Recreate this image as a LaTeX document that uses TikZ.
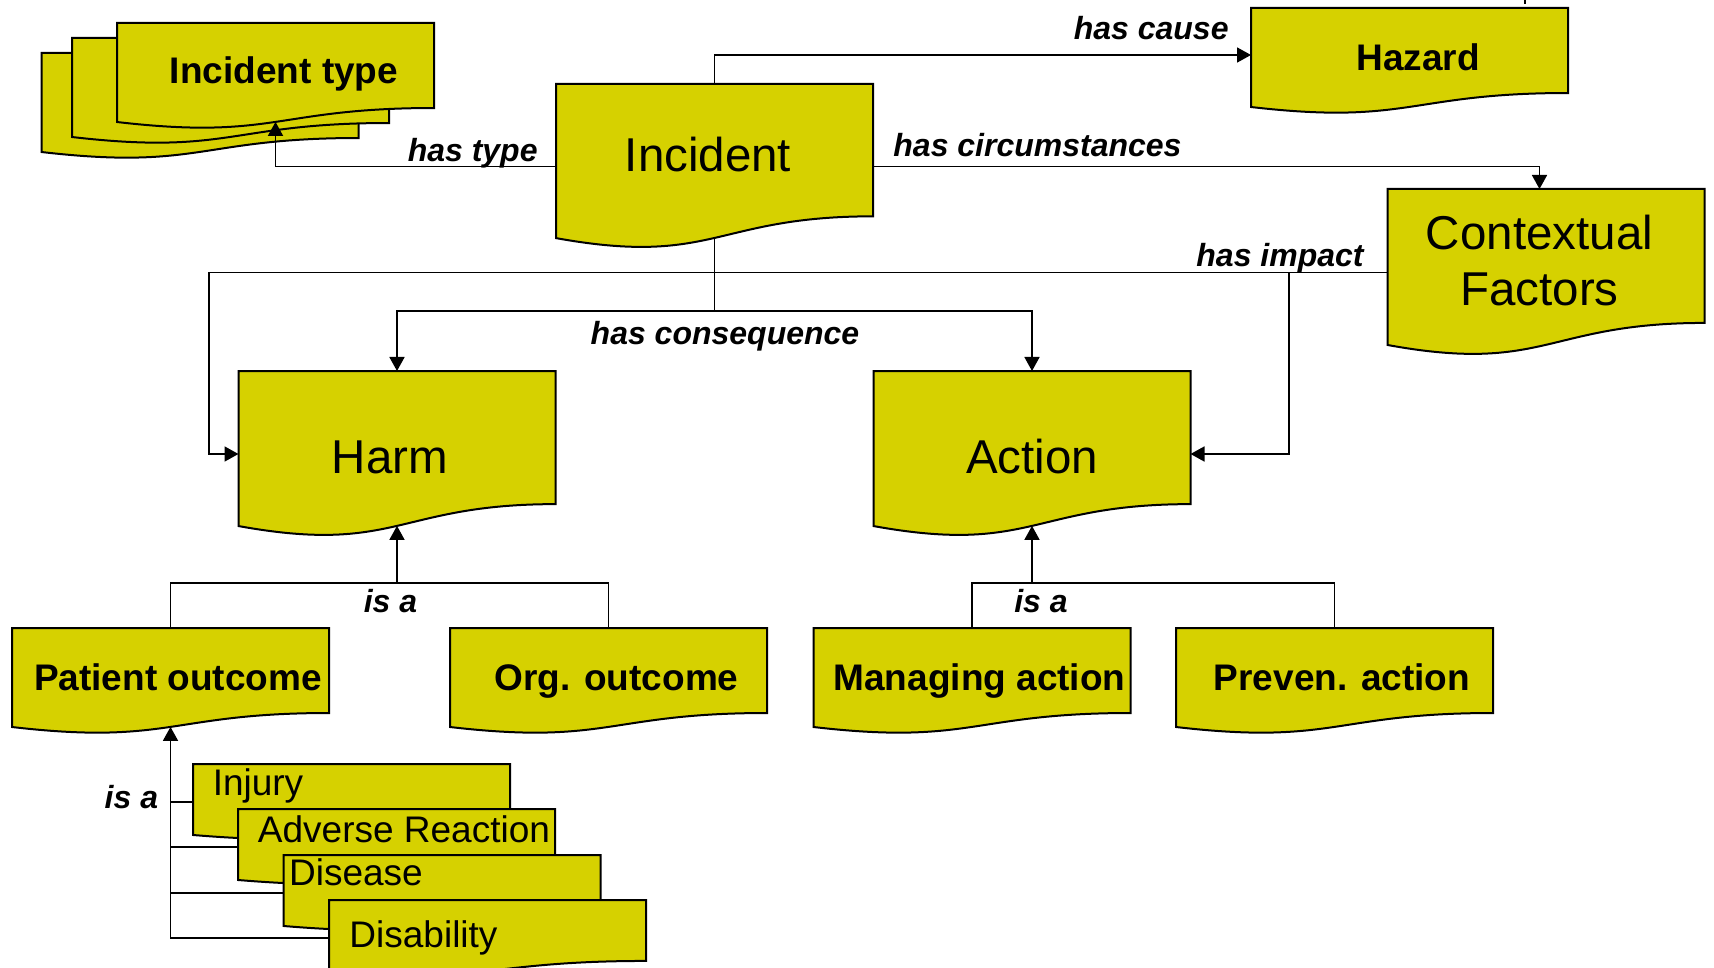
\documentclass[tikz,border=0pt]{standalone}
\usepackage{fontspec}
\setmainfont{Liberation Sans}
\usetikzlibrary{arrows.meta,calc}

\makeatletter
% Flow-chart "document" shape: a rectangle whose lower edge is a wave.
% Its size is fixed by minimum width/height; the text can be moved
% off the centre with the keys doc text dx / doc text dy.
\pgfkeys{/pgf/doc text dx/.initial=0pt,/pgf/doc text dy/.initial=0pt}
\pgfdeclareshape{document}{%
  \savedanchor\centerpoint{%
    \pgf@x=.5\wd\pgfnodeparttextbox
    \pgf@y=.5\ht\pgfnodeparttextbox
    \advance\pgf@y by -.5\dp\pgfnodeparttextbox
    \pgfmathsetlength\pgf@xa{\pgfkeysvalueof{/pgf/doc text dx}}%
    \pgfmathsetlength\pgf@ya{\pgfkeysvalueof{/pgf/doc text dy}}%
    \advance\pgf@x by -\pgf@xa
    \advance\pgf@y by -\pgf@ya
  }%
  \savedanchor\halfsize{%
    \pgfmathsetlength\pgf@x{\pgfkeysvalueof{/pgf/minimum width}}%
    \pgfmathsetlength\pgf@y{\pgfkeysvalueof{/pgf/minimum height}}%
    \pgf@x=.5\pgf@x
    \pgf@y=.5\pgf@y
  }%
  \anchor{text}{\pgfpointorigin}%
  \anchor{center}{\centerpoint}%
  \anchor{north}{\halfsize \pgf@yb=\pgf@y \centerpoint \advance\pgf@y by \pgf@yb}%
  \anchor{south}{\halfsize \pgf@yb=\pgf@y \centerpoint \advance\pgf@y by -\pgf@yb}%
  \anchor{east}{\halfsize \pgf@xb=\pgf@x \centerpoint \advance\pgf@x by \pgf@xb}%
  \anchor{west}{\halfsize \pgf@xb=\pgf@x \centerpoint \advance\pgf@x by -\pgf@xb}%
  \anchor{north west}{\halfsize \pgf@xb=\pgf@x \pgf@yb=\pgf@y \centerpoint
    \advance\pgf@x by -\pgf@xb \advance\pgf@y by \pgf@yb}%
  \anchor{north east}{\halfsize \pgf@xb=\pgf@x \pgf@yb=\pgf@y \centerpoint
    \advance\pgf@x by \pgf@xb \advance\pgf@y by \pgf@yb}%
  % middle of the wavy lower edge
  \anchor{wave}{\halfsize \pgf@yb=\pgf@y \centerpoint \advance\pgf@y by -0.866\pgf@yb}%
  \backgroundpath{%
    \halfsize \edef\dsW{\the\pgf@x}\edef\dsH{\the\pgf@y}%
    \centerpoint \edef\dsX{\the\pgf@x}\edef\dsY{\the\pgf@y}%
    \pgfpathmoveto{\pgfpoint{\dsX-\dsW}{\dsY+\dsH}}%
    \pgfpathlineto{\pgfpoint{\dsX+\dsW}{\dsY+\dsH}}%
    \pgfpathlineto{\pgfpoint{\dsX+\dsW}{\dsY-0.604*\dsH}}%
    \pgfpathcurveto{\pgfpoint{\dsX}{\dsY-0.604*\dsH}}%
      {\pgfpoint{\dsX}{\dsY-1.215*\dsH}}%
      {\pgfpoint{\dsX-\dsW}{\dsY-0.868*\dsH}}%
    \pgfpathclose
  }%
}
\makeatother

\definecolor{docfill}{RGB}{214,209,0}

\tikzset{
  docbase/.style={shape=document, draw=black, line width=1pt, fill=docfill,
    inner sep=0pt, text depth=0pt, minimum width=158.5pt},
  bigdoc/.style={docbase, text height=17.1pt,
    font=\fontsize{23.75pt}{28pt}\selectfont},
  middoc/.style={docbase, minimum height=53pt, text height=13.3pt,
    font=\bfseries\fontsize{18.5pt}{22pt}\selectfont},
  listdoc/.style={docbase, minimum height=38pt, text height=13.3pt,
    font=\fontsize{18.5pt}{22pt}\selectfont},
  tshift/.style 2 args={/pgf/doc text dx={(#1)*0.5pt}, /pgf/doc text dy={-(#2)*0.5pt}},
  rel/.style={font=\bfseries\itshape\fontsize{16pt}{19pt}\selectfont, inner sep=0pt},
  conn/.style={line width=0.85pt},
  arr/.style={conn, -{Triangle[length=7pt,width=7.5pt]}}
}

\begin{document}
\begin{tikzpicture}[x=0.5pt,y=-0.5pt]
\useasboundingbox (0,0) rectangle (1714,968);
\clip (0,0) rectangle (1714,968);

% ---- stack of incident types
\node[middoc] (itype3) at (200,106) {};
\node[middoc] (itype2) at (230.5,91) {};
\node[middoc, tshift={8.5}{-6}] (itype1) at (275.5,76) {Incident type};

% ---- central concepts
\node[bigdoc, minimum height=82.5pt, tshift={-6.5}{-12}] (incident) at (714.5,166.5) {Incident};
\node[middoc, tshift={8.5}{-3.5}] (hazard) at (1409.5,61) {Hazard};
\node[bigdoc, minimum height=83.5pt, text height={}, text depth={}, align=center,
      tshift={-6.5}{-12}] (factors) at (1546,272.5) {Contextual\\Factors};
\node[bigdoc, minimum height=83pt, tshift={-7}{2.5}] (harm) at (397,454) {Harm};
\node[bigdoc, minimum height=83pt, tshift={0}{2.5}] (action) at (1032,454) {Action};

% ---- sub-types of harm and action
\node[middoc, tshift={7.5}{-4}] (patient) at (170.5,681) {Patient outcome};
\node[middoc, tshift={8}{-3.5}] (org) at (608.5,681) {Org. outcome};
\node[middoc, tshift={7.5}{-4}] (managing) at (972,681) {Managing action};
\node[middoc, tshift={7.5}{-4}] (preven) at (1334.5,681) {Preven. action};

% ---- patient outcomes
\node[listdoc, tshift={-93.5}{-19.5}] (injury) at (351.5,802) {Injury};
\node[listdoc, tshift={7.5}{-18}] (adverse) at (396.5,847) {Adverse Reaction};
\node[listdoc, tshift={-86}{-21}] (disease) at (442,893) {Disease};
\node[listdoc, tshift={-64}{-4}] (disability) at (487.5,938) {Disability};

% ---- junction points of the connectors
\coordinate (cause-in) at ($(hazard.west)+(0,-6)$);
\coordinate (circ-in) at ($(factors.north)+(-6.5,0)$);
\coordinate (impact-left) at (209,0);
\coordinate (impact-right) at (1289,0);
\coordinate (cons) at (714.5,311);
\coordinate (harm-bar) at (397,583);
\coordinate (action-bar) at (1032,583);
\coordinate (stub-top) at (1525,0);
\coordinate (stub-end) at (1525,4);

% ---- connectors
\draw[arr] (incident.west) -| (itype1.wave);
\draw[arr] (incident.north) |- (cause-in);
\draw[arr] (incident.east) -| (circ-in);
\draw[arr] (factors.west) -- (factors.west -| impact-left) |- (harm.west);
\draw[arr] (factors.west -| impact-right) |- (action.east);
\draw[conn] (incident.wave) -- (cons);
\draw[arr] (cons) -| (harm.north);
\draw[arr] (cons) -| (action.north);
\draw[conn] (patient.north) |- (harm-bar) -| (org.north);
\draw[arr] (harm-bar) -- (harm.wave);
\draw[conn] (managing.north) |- (action-bar) -| (preven.north);
\draw[arr] (action-bar) -- (action.wave);
\draw[arr] (disability.west) -| (patient.wave);
\draw[conn] (injury.west) -- (injury.west -| patient.wave);
\draw[conn] (adverse.west) -- (adverse.west -| patient.wave);
\draw[conn] (disease.west) -- (disease.west -| patient.wave);
\draw[conn] (stub-top) -- (stub-end);

% ---- relation labels
\node[rel, anchor=base east] (l-type) at (538,161.5) {has type};
\node[rel, anchor=base east] (l-cause) at (1229,39.5) {has cause};
\node[rel, anchor=base west] (l-circ) at (893,157) {has circumstances};
\node[rel, anchor=base east] (l-impact) at (1364,266.5) {has impact};
\node[rel, anchor=base] (l-cons) at (725,344) {has consequence};
\node[rel, anchor=base] (l-isa1) at (390.5,612.5) {is a};
\node[rel, anchor=base] (l-isa2) at (1041,612.5) {is a};
\node[rel, anchor=base east] (l-isa3) at (158.5,808) {is a};
\end{tikzpicture}
\end{document}
